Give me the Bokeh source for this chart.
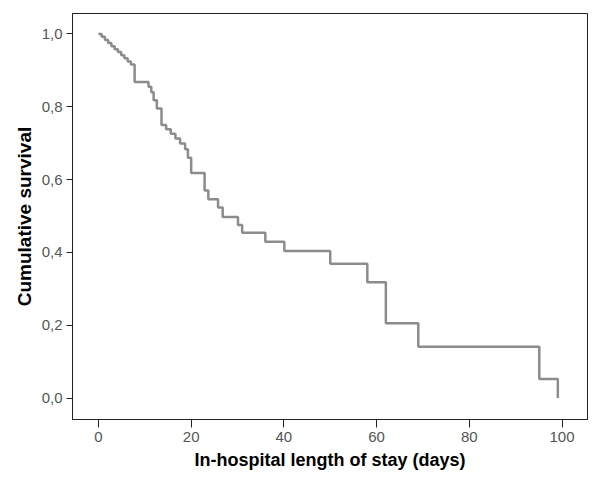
from bokeh.plotting import figure
from bokeh.models import FixedTicker, CustomJSTickFormatter, Range1d
from bokeh.embed import file_html
from bokeh.resources import INLINE

# Kaplan-Meier estimate
days = [0, 0.7, 1.4, 2.1, 2.8, 3.5, 4.2, 4.9, 5.6, 6.3, 7.0, 7.8,
        10.8, 11.4, 11.9, 12.6, 13.6, 14.6, 15.6, 16.6, 17.6, 18.7, 19.3, 20.0,
        22.9, 23.7, 25.8, 26.8, 30.1, 31.0, 36.0, 40.1, 50.0, 58.0, 62.0, 69.0,
        95.1, 99.1]
survival = [1.0, 0.992, 0.983, 0.975, 0.966, 0.958, 0.950, 0.941, 0.933, 0.924, 0.916, 0.868,
            0.855, 0.840, 0.818, 0.795, 0.750, 0.738, 0.726, 0.713, 0.699, 0.683, 0.660, 0.618,
            0.570, 0.546, 0.523, 0.497, 0.475, 0.454, 0.429, 0.404, 0.369, 0.318, 0.205, 0.141,
            0.052, 0.0]

x_ticks = [0, 20, 40, 60, 80, 100]
y_ticks = [0.0, 0.2, 0.4, 0.6, 0.8, 1.0]

p = figure(width=600, height=480, output_backend="svg", toolbar_location=None,
           x_range=Range1d(-5.6, 105.5), y_range=Range1d(-0.059, 1.056),
           min_border_left=72, min_border_right=13, min_border_top=13, min_border_bottom=61)

p.step(days, survival, mode="after", line_color="#8c8c8c", line_width=2.5)

p.xgrid.visible = False
p.ygrid.visible = False
p.outline_line_color = "#222222"
p.outline_line_width = 1
p.background_fill_color = "white"
p.border_fill_color = "white"

for ax in (p.xaxis[0], p.yaxis[0]):
    ax.axis_line_color = "#222222"
    ax.major_tick_line_color = "#222222"
    ax.minor_tick_line_color = None
    ax.major_tick_in = 0
    ax.major_label_text_font = "Liberation Sans"
    ax.major_label_text_font_size = "15px"
    ax.major_label_text_color = "#555555"
    ax.axis_label_text_font = "Liberation Sans"
    ax.axis_label_text_font_style = "bold"
    ax.axis_label_text_color = "black"

p.xaxis.ticker = FixedTicker(ticks=x_ticks)
p.yaxis.ticker = FixedTicker(ticks=y_ticks)
p.yaxis.formatter = CustomJSTickFormatter(code="return tick.toFixed(1).replace('.', ',');")

p.xaxis.major_tick_out = 8
p.yaxis.major_tick_out = 6
p.xaxis.major_label_standoff = 4
p.yaxis.major_label_standoff = 4
p.xaxis.axis_label = "In-hospital length of stay (days)"
p.yaxis.axis_label = "Cumulative survival"
p.xaxis.axis_label_text_font_size = "18px"
p.yaxis.axis_label_text_font_size = "19px"
p.xaxis.axis_label_standoff = 5
p.yaxis.axis_label_standoff = 4

open("out.html", "w").write(file_html(p, INLINE))
